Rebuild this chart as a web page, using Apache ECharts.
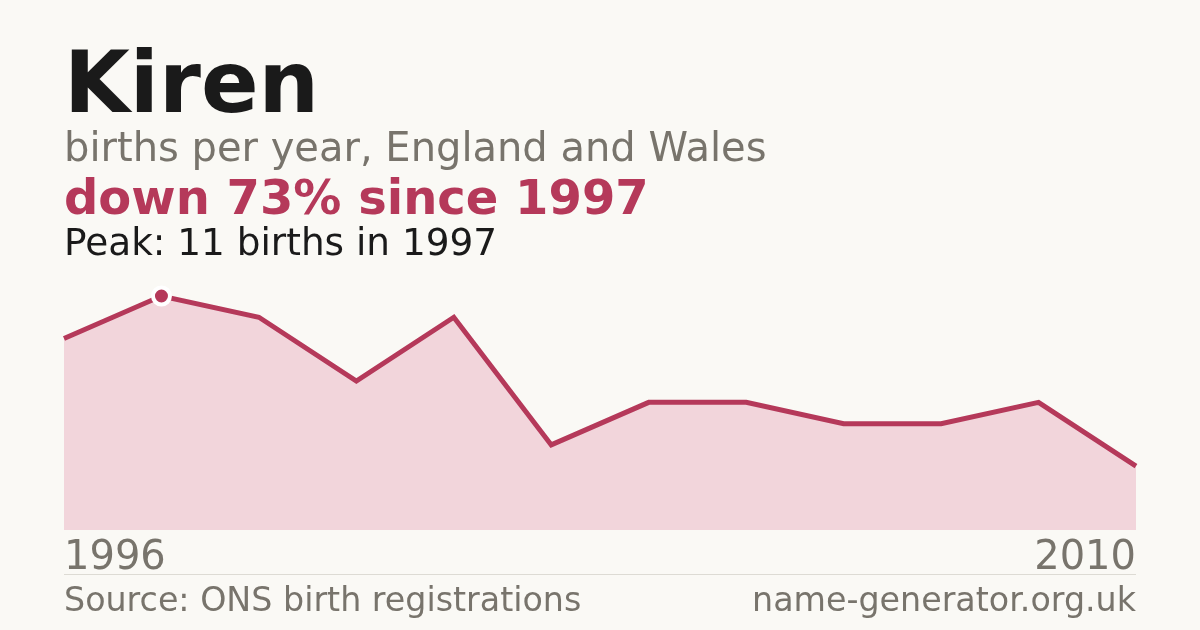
<!DOCTYPE html>
<html><head><meta charset="utf-8">
<script src="https://cdn.jsdelivr.net/npm/echarts@6/dist/echarts.min.js"></script>
<style>html,body{margin:0;padding:0;background:#faf9f5;}#c{width:1200px;height:630px;}</style>
</head><body><div id="c"></div>
<script>
const years = ['1996','1997','1998','1999','2000','2001','2003','2004','2005','2006','2008','2010'];
const births = [9, 11, 10, 7, 10, 4, 6, 6, 5, 5, 6, 3];
const titleText = 'Kiren';
const subtitleText = 'births per year, England and Wales';
const changeText = 'down 73% since 1997';
const peakText = 'Peak: 11 births in 1997';
const sourceText = 'Source: ONS birth registrations';
const siteText = 'name-generator.org.uk';

const peakIdx = births.indexOf(Math.max(...births));
const FONT = '"DejaVu Sans", sans-serif';
const chart = echarts.init(document.getElementById('c'));
chart.setOption({
  backgroundColor: '#faf9f5',
  animation: false,
  grid: { left: 64, right: 64, top: 296, bottom: 100 },
  xAxis: {
    type: 'category', data: years, boundaryGap: false,
    axisLine: { show: false }, axisTick: { show: false }, splitLine: { show: false },
    axisLabel: {
      interval: (i) => i === 0 || i === years.length - 1,
      color: '#78746c', fontSize: 40, fontFamily: FONT, margin: 9,
      alignMinLabel: 'left', alignMaxLabel: 'right'
    }
  },
  yAxis: { type: 'value', min: 0, max: 11, show: false, splitLine: { show: false } },
  series: [
    {
      type: 'line', data: births, symbol: 'none',
      lineStyle: { color: '#b5395a', width: 5, join: 'miter' },
      areaStyle: { color: '#f2d5db', opacity: 1 },
      z: 2
    },
    {
      type: 'scatter', data: [[peakIdx, births[peakIdx]]], symbol: 'circle', symbolSize: 17,
      itemStyle: { color: '#b5395a', borderColor: '#ffffff', borderWidth: 4, opacity: 1 }, z: 5
    }
  ],
  graphic: [
    { type: 'text', left: 64, y: 90, style: { text: titleText, font: 'bold 85px ' + FONT, fill: '#1a1a1a', verticalAlign: 'middle' } },
    { type: 'text', left: 64, y: 151, style: { text: subtitleText, font: '40px ' + FONT, fill: '#78746c', verticalAlign: 'middle' } },
    { type: 'text', left: 64, y: 202, style: { text: changeText, font: 'bold 48px ' + FONT, fill: '#b5395a', verticalAlign: 'middle' } },
    { type: 'text', left: 64, y: 245, style: { text: peakText, font: '37.4px ' + FONT, fill: '#1a1a1a', verticalAlign: 'middle' } },
    { type: 'line', shape: { x1: 64, y1: 574.5, x2: 1136, y2: 574.5 }, style: { stroke: '#dddbd4', lineWidth: 1 } },
    { type: 'text', left: 64, y: 602, style: { text: sourceText, font: '33.3px ' + FONT, fill: '#78746c', verticalAlign: 'middle' } },
    { type: 'text', right: 64, y: 602, style: { text: siteText, font: '33.3px ' + FONT, fill: '#78746c', verticalAlign: 'middle' } }
  ]
});
</script></body></html>
